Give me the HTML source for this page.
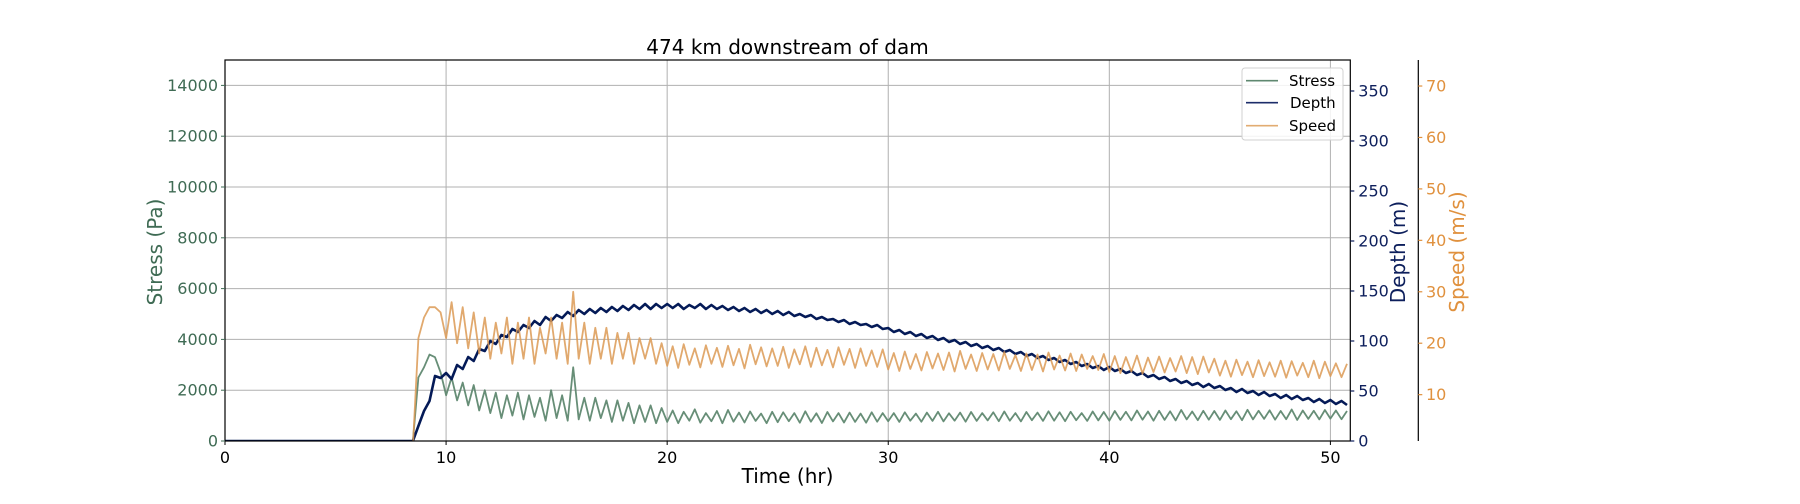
<!DOCTYPE html>
<html><head><meta charset="utf-8"><style>
html,body{margin:0;padding:0;background:#fff;}
svg{display:block;font-family:"DejaVu Sans","Liberation Sans",sans-serif;}
</style></head><body>
<svg id="chart" width="1800" height="504" viewBox="0 0 1800 504" xmlns="http://www.w3.org/2000/svg">
<defs><clipPath id="plotclip"><rect x="225" y="60" width="1125.3" height="381"/></clipPath></defs>
<text x="787.5" y="54" font-size="20" text-anchor="middle" fill="#000">474 km downstream of dam</text>
<g id="grid"></g>
<g id="series" clip-path="url(#plotclip)"></g>
<rect x="225" y="60" width="1125.3" height="381" fill="none" stroke="#000" stroke-width="1.2"/>
<line x1="1418.3" y1="60" x2="1418.3" y2="441" stroke="#000" stroke-width="1.2"/>
<g id="axes"></g>
<text x="787.5" y="483" font-size="20" text-anchor="middle" fill="#000">Time (hr)</text>
<text transform="translate(162,252) rotate(-90)" font-size="20" text-anchor="middle" fill="#3f6b54">Stress (Pa)</text>
<text transform="translate(1405,252) rotate(-90)" font-size="20" text-anchor="middle" fill="#0d1f5c">Depth (m)</text>
<text transform="translate(1464,252) rotate(-90)" font-size="20" text-anchor="middle" fill="#e0913e">Speed (m/s)</text>
<g>
<rect x="1242" y="68" width="101" height="72" rx="3" fill="#fff" fill-opacity="0.85" stroke="#d0d0d0"/>
<line x1="1246" y1="80.7" x2="1278" y2="80.7" stroke="#5f8870" stroke-width="1.6"/>
<text x="1289" y="86" font-size="15">Stress</text>
<line x1="1246" y1="102.7" x2="1278" y2="102.7" stroke="#1c2d6a" stroke-width="1.6"/>
<text x="1290" y="108" font-size="15">Depth</text>
<line x1="1246" y1="125.7" x2="1278" y2="125.7" stroke="#e2ac72" stroke-width="1.6"/>
<text x="1289" y="131" font-size="15">Speed</text>
</g>
</svg>
<script>
const startHour = 8.5;
const stepHour = 0.25;
const xTicks = [0,10,20,30,40,50];
const stressTicks = [0,2000,4000,6000,8000,10000,12000,14000];
const depthTicks = [0,50,100,150,200,250,300,350];
const speedTicks = [10,20,30,40,50,60,70];
const speedValues = [0,21,25,27,27,26,21,28,20,27,19,26,18,25,17,24,18,25,16,24,17,25,16,23,18,25,17,24,16,30,17,24,16,23,17,23,16,22,17,22,16,21,17,21,16,20,
15.6,19.4,15.2,19.8,15.8,19.0,15.3,19.6,16.0,19.1,15.4,19.5,15.7,18.9,15.1,19.7,15.9,19.2,15.5,19.0,15.6,19.3,15.2,18.8,15.9,19.4,15.4,19.1,15.7,18.7,15.3,19.2,15.8,18.9,15.2,19.0,15.6,18.6,15.4,18.8,
14.9,18.1,14.6,18.4,15.0,17.9,14.7,18.3,15.1,18.0,14.8,18.2,14.5,18.5,15.0,17.8,14.6,18.1,14.9,17.9,14.7,18.3,15.0,17.7,14.6,18.0,14.8,17.8,14.5,18.2,14.9,17.6,14.7,18.0,14.6,17.8,15.0,17.5,14.8,17.9,
14.4,17.5,14.2,17.3,14.5,17.6,14.1,17.2,14.4,17.4,14.3,17.1,14.5,17.5,14.2,17.3,14.0,17.4,14.3,17.0,
13.7,16.6,13.5,16.8,13.8,16.4,13.4,16.7,13.6,16.3,13.5,16.6,13.3,16.5,13.7,16.2,13.4,16.6,13.2,16.4,13.6,16.1,13.4,16.0];
const stressValues = [0,2500,2900,3400,3300,2700,1800,2500,1600,2300,1400,2200,1200,2000,1100,1900,900,1800,1000,1900,850,1800,950,1700,800,2000,900,1800,800,2900,850,1700,800,1700,900,1600,750,1600,800,1500,700,1400,750,1400,700,1300,
750,1200,700,1150,800,1250,720,1100,780,1180,700,1220,760,1120,730,1160,790,1080,700,1150,740,1130,780,1100,720,1170,760,1090,710,1140,770,1100,730,1120,750,1080,720,1130,760,1100,
780,1100,750,1130,800,1080,760,1120,790,1150,770,1090,800,1120,760,1140,790,1100,810,1130,780,1160,800,1100,770,1140,820,1120,790,1170,800,1130,780,1150,820,1100,790,1160,810,1140,
800,1180,830,1150,810,1200,840,1160,800,1190,830,1170,810,1220,850,1160,820,1190,840,1180,
830,1200,860,1170,820,1230,850,1190,870,1210,840,1180,860,1240,830,1200,870,1190,850,1220,880,1200,860,1180];
const depthValues = [0,15,30,40,65,63,68,62,76,72,84,80,92,90,100,97,106,104,112,109,116,113,120,116,124,120,126,123,129,125,131,127,132,128,133,129,134,130,135,131,136,132,137,132,137,133,
137,133,137,132,136,133,137,132,136,132,135,131,134,130,133,129,132,128,131,127,130,126,129,125,127,124,126,122,124,121,122,119,121,117,119,116,117,114,116,112,
113,109,111,107,109,105,107,103,105,101,103,99,101,97,99,95,97,93,95,91,93,89,91,87,89,85,87,83,85,81,83,79,81,77,79,75,77,73,75,71,
74,70,72,68,70,66,68,64,66,62,64,60,62,58,60,56,58,54,57,53,
55,51,53,49,52,48,50,46,49,45,47,43,46,42,45,41,43,39,42,38,41,37,40,36];

const NS = "http://www.w3.org/2000/svg";
const L = 225, R = 1350.3, T = 60, B = 441;
const X_MAX = 50.9;
function xPos(h){ return L + (R - L) * h / X_MAX; }
function yStress(v){ return B - (B - T) * v / 15000; }
function yDepth(v){ return B - (B - T) * v / 381; }
function ySpeed(v){ return 446.1 - 5.144 * v; }
function mk(tag, attrs, parent){
  const el = document.createElementNS(NS, tag);
  for (const k in attrs) el.setAttribute(k, attrs[k]);
  parent.appendChild(el);
  return el;
}
const grid = document.getElementById('grid');
const axes = document.getElementById('axes');
const series = document.getElementById('series');

xTicks.forEach(t => {
  const x = xPos(t);
  const g = mk('line', {x1:x, y1:T, x2:x, y2:B, stroke:'#b0b0b0', 'stroke-width':1}, grid);
  
  
  const tk = mk('line', {x1:x, y1:B, x2:x, y2:B+4, stroke:'#000', 'stroke-width':1}, axes);
  
  
  const lb = mk('text', {x:x, y:B+22, 'font-size':16, 'text-anchor':'middle', fill:'#000'}, axes);
  lb.textContent = t;
  
  
});
stressTicks.forEach(t => {
  const y = yStress(t);
  if (t > 0) {
    const g = mk('line', {x1:L, y1:y, x2:R, y2:y, stroke:'#b0b0b0', 'stroke-width':1}, grid);
    
    
  }
  const tk = mk('line', {x1:L-4, y1:y, x2:L, y2:y, stroke:'#3f6b54', 'stroke-width':1}, axes);
  
  
  const lb = mk('text', {x:L-7, y:y+5.5, 'font-size':16, 'text-anchor':'end', fill:'#3f6b54'}, axes);
  lb.textContent = t;
  
  
});
depthTicks.forEach(t => {
  const y = yDepth(t);
  const tk = mk('line', {x1:R, y1:y, x2:R+4, y2:y, stroke:'#0d1f5c', 'stroke-width':1.2}, axes);
  
  
  const lb = mk('text', {x:R+8, y:y+5.5, 'font-size':16, fill:'#0d1f5c'}, axes);
  lb.textContent = t;
  
  
});
speedTicks.forEach(t => {
  const y = ySpeed(t);
  const tk = mk('line', {x1:1418.3, y1:y, x2:1422.3, y2:y, stroke:'#e0913e', 'stroke-width':1.2}, axes);
  
  
  const lb = mk('text', {x:1426, y:y+5.5, 'font-size':16, fill:'#e0913e'}, axes);
  lb.textContent = t;
  
  
});

function pathFor(values, yf){
  let d = 'M' + xPos(0).toFixed(1) + ' ' + yf(0).toFixed(1);
  values.forEach((v, i) => {
    const h = startHour + stepHour * i;
    d += ' L' + xPos(h).toFixed(1) + ' ' + yf(v).toFixed(1);
  });
  return d;
}
const stressLine = mk('path', {d:pathFor(stressValues, yStress), fill:'none', stroke:'#5f8870', 'stroke-width':1.8, 'stroke-linejoin':'round', opacity:0.95}, series);


const depthLine = mk('path', {d:pathFor(depthValues, yDepth), fill:'none', stroke:'#041a57', 'stroke-width':2.6, 'stroke-linejoin':'round'}, series);


const speedLine = mk('path', {d:pathFor(speedValues, ySpeed), fill:'none', stroke:'#dc9a55', 'stroke-width':1.8, 'stroke-linejoin':'round', opacity:0.85}, series);


</script>
</body></html>
